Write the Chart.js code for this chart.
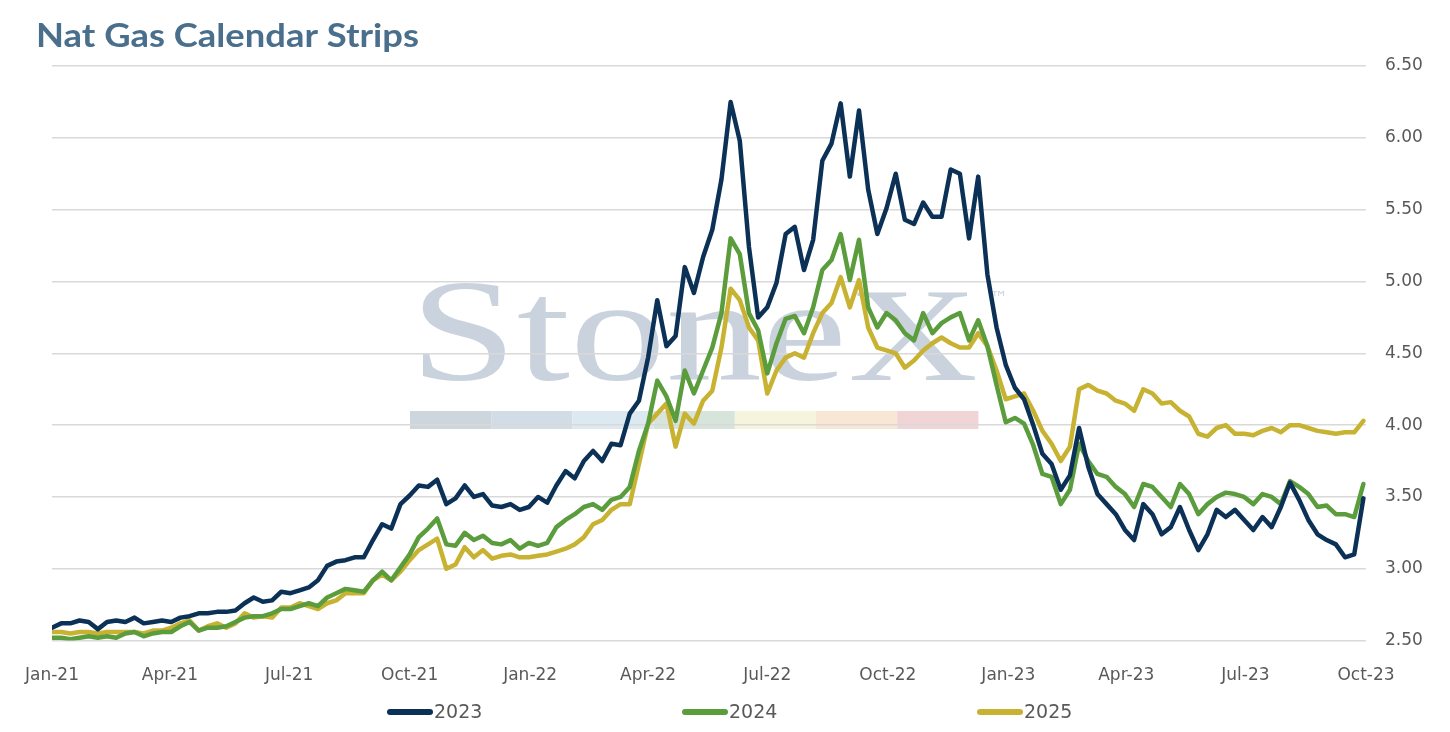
<!DOCTYPE html>
<html>
<head>
<meta charset="utf-8">
<title>Nat Gas Calendar Strips</title>
<script src="https://cdn.jsdelivr.net/npm/chart.js@4.4.0/dist/chart.umd.min.js"></script>
<style>
    html, body { margin: 0; padding: 0; background: #fff; }
    #wrap { width: 1450px; height: 732px; position: relative; }
</style>
</head>
<body>
<div id="wrap"><canvas id="chart"></canvas></div>
<script>
const chartTitle = 'Nat Gas Calendar Strips';

// weekly settles, point i is i weeks after the start of Jan-21
const strip2023 = [
    2.59, 2.62, 2.62, 2.64, 2.63, 2.58, 2.63, 2.64, 2.63, 2.66, 2.62, 2.63,
    2.64, 2.63, 2.66, 2.67, 2.69, 2.69, 2.70, 2.70, 2.71, 2.76, 2.80, 2.77,
    2.78, 2.84, 2.83, 2.85, 2.87, 2.92, 3.02, 3.05, 3.06, 3.08, 3.08, 3.20,
    3.31, 3.28, 3.45, 3.51, 3.58, 3.57, 3.62, 3.45, 3.49, 3.58, 3.50, 3.52,
    3.44, 3.43, 3.45, 3.41, 3.43, 3.50, 3.46, 3.58, 3.68, 3.63, 3.75, 3.82,
    3.75, 3.87, 3.86, 4.08, 4.17, 4.47, 4.87, 4.55, 4.62, 5.10, 4.92, 5.17,
    5.36, 5.71, 6.25, 5.98, 5.24, 4.75, 4.82, 4.99, 5.33, 5.38, 5.08, 5.29,
    5.84, 5.96, 6.24, 5.73, 6.19, 5.64, 5.33, 5.51, 5.75, 5.43, 5.40, 5.55,
    5.45, 5.45, 5.78, 5.75, 5.30, 5.73, 5.05, 4.68, 4.42, 4.26, 4.18, 4.00,
    3.80, 3.73, 3.55, 3.65, 3.98, 3.71, 3.52, 3.45, 3.38, 3.27, 3.20, 3.45,
    3.38, 3.24, 3.29, 3.43, 3.27, 3.13, 3.24, 3.41, 3.36, 3.41, 3.34, 3.27,
    3.36, 3.29, 3.43, 3.60, 3.48, 3.34, 3.24, 3.20, 3.17, 3.08, 3.10, 3.49
];
const strip2024 = [
    2.52, 2.52, 2.51, 2.52, 2.53, 2.52, 2.53, 2.52, 2.55, 2.56, 2.53, 2.55,
    2.56, 2.56, 2.60, 2.63, 2.57, 2.59, 2.59, 2.60, 2.63, 2.66, 2.67, 2.67,
    2.69, 2.72, 2.72, 2.74, 2.76, 2.74, 2.80, 2.83, 2.86, 2.85, 2.84, 2.92,
    2.98, 2.92, 3.01, 3.10, 3.22, 3.28, 3.35, 3.17, 3.16, 3.25, 3.20, 3.23,
    3.18, 3.17, 3.20, 3.14, 3.18, 3.16, 3.18, 3.29, 3.34, 3.38, 3.43, 3.45,
    3.41, 3.48, 3.50, 3.57, 3.82, 4.01, 4.31, 4.20, 4.03, 4.38, 4.22, 4.38,
    4.54, 4.78, 5.30, 5.19, 4.78, 4.66, 4.36, 4.57, 4.74, 4.76, 4.64, 4.82,
    5.08, 5.15, 5.33, 5.01, 5.29, 4.82, 4.68, 4.78, 4.73, 4.64, 4.59, 4.78,
    4.64, 4.71, 4.75, 4.78, 4.59, 4.73, 4.55, 4.28, 4.02, 4.05, 4.01, 3.86,
    3.66, 3.64, 3.45, 3.55, 3.87, 3.75, 3.66, 3.64, 3.57, 3.52, 3.43, 3.59,
    3.57, 3.50, 3.43, 3.59, 3.52, 3.38, 3.45, 3.50, 3.53, 3.52, 3.50, 3.45,
    3.52, 3.50, 3.45, 3.61, 3.57, 3.52, 3.43, 3.44, 3.38, 3.38, 3.36, 3.59
];
const strip2025 = [
    2.56, 2.56, 2.55, 2.56, 2.56, 2.55, 2.56, 2.56, 2.56, 2.56, 2.55, 2.57,
    2.57, 2.59, 2.62, 2.64, 2.57, 2.60, 2.62, 2.59, 2.62, 2.69, 2.66, 2.67,
    2.66, 2.73, 2.73, 2.76, 2.74, 2.72, 2.76, 2.78, 2.83, 2.83, 2.83, 2.92,
    2.96, 2.92, 2.98, 3.06, 3.13, 3.17, 3.21, 3.00, 3.03, 3.15, 3.08, 3.13,
    3.07, 3.09, 3.10, 3.08, 3.08, 3.09, 3.10, 3.12, 3.14, 3.17, 3.22, 3.31,
    3.34, 3.41, 3.45, 3.45, 3.73, 4.01, 4.08, 4.15, 3.85, 4.08, 4.01, 4.17,
    4.24, 4.54, 4.95, 4.87, 4.68, 4.59, 4.22, 4.38, 4.47, 4.50, 4.47, 4.64,
    4.78, 4.85, 5.03, 4.82, 5.01, 4.68, 4.54, 4.52, 4.50, 4.40, 4.45, 4.52,
    4.57, 4.61, 4.57, 4.54, 4.54, 4.64, 4.55, 4.38, 4.18, 4.20, 4.22, 4.10,
    3.96, 3.87, 3.75, 3.85, 4.25, 4.28, 4.24, 4.22, 4.17, 4.15, 4.10, 4.25,
    4.22, 4.15, 4.16, 4.10, 4.06, 3.94, 3.92, 3.98, 4.00, 3.94, 3.94, 3.93,
    3.96, 3.98, 3.95, 4.00, 4.00, 3.98, 3.96, 3.95, 3.94, 3.95, 3.95, 4.03
];

const quarterLabels = ['Jan-21', 'Apr-21', 'Jul-21', 'Oct-21', 'Jan-22', 'Apr-22',
    'Jul-22', 'Oct-22', 'Jan-23', 'Apr-23', 'Jul-23', 'Oct-23'];
const quarterDays = [0, 90, 181, 273, 365, 455, 546, 638, 730, 820, 911, 1003];
const seriesNames = ['2023', '2024', '2025'];
const seriesColors = ['#0c3156', '#5b9c3d', '#c8b232'];
const yMin = 2.5, yMax = 6.5, yStep = 0.5;

const tickFont = { family: '"DejaVu Sans"', size: 17 };
const toPoints = (arr) => arr.map((v, i) => ({ x: i * 7, y: v }));

// draws text squeezed/stretched so it spans exactly `width` px
function fitText(ctx, text, x, y, width) {
    const w = ctx.measureText(text).width;
    ctx.save();
    ctx.translate(x, y);
    ctx.scale(width / w, 1);
    ctx.fillText(text, 0, 0);
    ctx.restore();
}

// faint company watermark behind the grid
const watermark = {
    id: 'watermark',
    beforeDraw(chart) {
        const ctx = chart.ctx;
        ctx.save();
        ctx.textBaseline = 'alphabetic';
        ctx.textAlign = 'left';
        ctx.fillStyle = '#cad3dd';
        ctx.font = '147px "Liberation Serif"';
        fitText(ctx, 'Stone', 410, 380, 437);
        ctx.font = '133px "Liberation Serif"';
        fitText(ctx, 'X', 848, 380, 130);
        ctx.font = '18px "DejaVu Sans"';
        ctx.fillText('\u2122', 990, 304);
        const bands = ['#cdd5dd', '#d2dce6', '#dde9f1', '#d6e4db', '#f7f4dd', '#f8e7d4', '#f1d4d6'];
        bands.forEach((c, i) => {
            ctx.fillStyle = c;
            ctx.fillRect(410 + i * 81.2, 411, 81.2, 18);
        });
        ctx.restore();
    }
};

const titleText = {
    id: 'titleText',
    afterDraw(chart) {
        const ctx = chart.ctx;
        ctx.save();
        ctx.textBaseline = 'alphabetic';
        ctx.textAlign = 'left';
        ctx.font = 'bold 32px Lato';
        ctx.fillStyle = '#4a6f8c';
        fitText(ctx, chartTitle, 36, 47, 383);
        ctx.restore();
    }
};

// legend drawn by hand so the wide spacing does not eat the plot height
const lineLegend = {
    id: 'lineLegend',
    afterDraw(chart) {
        const ctx = chart.ctx;
        const starts = [387, 682, 977];
        ctx.save();
        ctx.font = '19px "DejaVu Sans"';
        ctx.textBaseline = 'middle';
        ctx.textAlign = 'left';
        chart.data.datasets.forEach((ds, i) => {
            const x = starts[i], y = 712;
            ctx.strokeStyle = ds.borderColor;
            ctx.lineWidth = 6;
            ctx.lineCap = 'round';
            ctx.beginPath();
            ctx.moveTo(x + 3, y);
            ctx.lineTo(x + 43, y);
            ctx.stroke();
            ctx.fillStyle = '#595959';
            ctx.fillText(ds.label, x + 47, y + 1);
        });
        ctx.restore();
    }
};

new Chart(document.getElementById('chart'), {
    type: 'line',
    data: {
        datasets: [
            { label: seriesNames[0], data: toPoints(strip2023), borderColor: seriesColors[0], backgroundColor: seriesColors[0] },
            { label: seriesNames[1], data: toPoints(strip2024), borderColor: seriesColors[1], backgroundColor: seriesColors[1] },
            { label: seriesNames[2], data: toPoints(strip2025), borderColor: seriesColors[2], backgroundColor: seriesColors[2] },
        ],
    },
    options: {
        responsive: true,
        maintainAspectRatio: false,
        animation: false,
        layout: { padding: { top: 66, left: 52, right: 0, bottom: 29 } },
        elements: {
            point: { radius: 0 },
            line: { borderWidth: 4.5, tension: 0, borderJoinStyle: 'round', borderCapStyle: 'round' },
        },
        scales: {
            x: {
                type: 'linear',
                min: 0,
                max: quarterDays[quarterDays.length - 1],
                grid: { display: false },
                border: { display: false },
                afterBuildTicks(axis) {
                    axis.ticks = quarterDays.map((d) => ({ value: d }));
                },
                ticks: {
                    autoSkip: false,
                    maxRotation: 0,
                    padding: 17,
                    color: '#595959',
                    font: tickFont,
                    callback: (v, i) => quarterLabels[i],
                },
            },
            y: {
                position: 'right',
                min: yMin,
                max: yMax,
                grid: { color: '#d9d9d9', lineWidth: 1.5, drawTicks: false },
                border: { display: false },
                afterFit(axis) { axis.width = 84; },
                ticks: {
                    stepSize: yStep,
                    padding: 19,
                    color: '#595959',
                    font: tickFont,
                    callback: (v) => v.toFixed(2),
                },
            },
        },
        plugins: {
            title: { display: false },
            tooltip: { enabled: false },
            legend: { display: false },
        },
    },
    plugins: [watermark, titleText, lineLegend],
});
</script>
</body>
</html>
